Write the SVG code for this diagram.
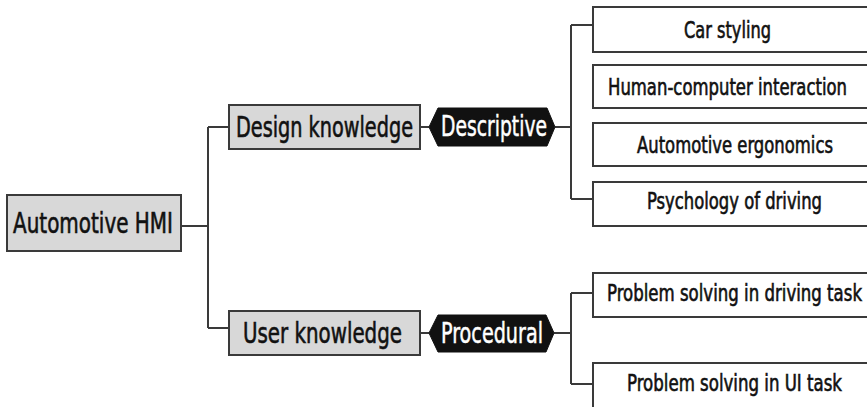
<svg xmlns="http://www.w3.org/2000/svg" width="867" height="407" viewBox="0 0 867 407">
<style>
.gbox{fill:#d8d8d8;stroke:#3a3a3a;stroke-width:2}
.wbox{fill:#ffffff;stroke:#3a3a3a;stroke-width:2}
.hex{fill:#111111;stroke:#111111;stroke-width:1}
.ln{fill:none;stroke:#3a3a3a;stroke-width:2}
text{font-family:"DejaVu Sans Condensed","Liberation Sans Narrow","Liberation Sans",sans-serif;fill:#111;stroke:#111;stroke-width:0.6}
.big{font-size:29px}
.sm{font-size:23px}
.wt{fill:#ffffff;stroke:#ffffff;stroke-width:0.5}
</style>
<rect width="867" height="407" fill="#ffffff"/>
<g id="connectors">
<path class="ln" d="M181 226 H208 M208 127 V328 M208 127 H229 M208 328 H229"/>
<path class="ln" d="M420 127 H429 M555 127 H571 M571 25 V199 M571 25 H593 M571 199 H593"/>
<path class="ln" d="M420 333 H429 M554 333 H571 M571 293 V384 M571 293 H593 M571 384 H593"/>
</g>
<g id="n-hmi">
<rect class="gbox" x="7" y="195" width="174" height="56"/>
<text class="big" x="93" y="233" text-anchor="middle" textLength="160" lengthAdjust="spacingAndGlyphs">Automotive HMI</text>
</g>
<g id="n-design">
<rect class="gbox" x="229" y="105" width="191" height="44"/>
<text class="big" x="324.5" y="137" text-anchor="middle" textLength="177" lengthAdjust="spacingAndGlyphs">Design knowledge</text>
</g>
<g id="n-descriptive">
<polygon class="hex" points="429,127 438,108 547,108 555,127 547,146 438,146"/>
<text class="big wt" x="494" y="136" text-anchor="middle" textLength="106" lengthAdjust="spacingAndGlyphs">Descriptive</text>
</g>
<g id="n-user">
<rect class="gbox" x="229" y="311" width="191" height="44"/>
<text class="big" x="322.5" y="343" text-anchor="middle" textLength="159" lengthAdjust="spacingAndGlyphs">User knowledge</text>
</g>
<g id="n-procedural">
<polygon class="hex" points="429,333 438,315 546,315 554,333 546,352 438,352"/>
<text class="big wt" x="492" y="343" text-anchor="middle" textLength="102" lengthAdjust="spacingAndGlyphs">Procedural</text>
</g>
<g id="n-car">
<rect class="wbox" x="593" y="7" width="280" height="45"/>
<text class="sm" x="727.5" y="38" text-anchor="middle" textLength="87" lengthAdjust="spacingAndGlyphs">Car styling</text>
</g>
<g id="n-hci">
<rect class="wbox" x="593" y="65" width="280" height="43"/>
<text class="sm" x="727.5" y="95" text-anchor="middle" textLength="239" lengthAdjust="spacingAndGlyphs">Human-computer interaction</text>
</g>
<g id="n-ergo">
<rect class="wbox" x="593" y="123" width="280" height="43"/>
<text class="sm" x="735" y="153" text-anchor="middle" textLength="196" lengthAdjust="spacingAndGlyphs">Automotive ergonomics</text>
</g>
<g id="n-psych">
<rect class="wbox" x="593" y="182" width="280" height="44"/>
<text class="sm" x="734.5" y="209" text-anchor="middle" textLength="175" lengthAdjust="spacingAndGlyphs">Psychology of driving</text>
</g>
<g id="n-psdt">
<rect class="wbox" x="593" y="273" width="280" height="44"/>
<text class="sm" x="734.5" y="301" text-anchor="middle" textLength="255" lengthAdjust="spacingAndGlyphs">Problem solving in driving task</text>
</g>
<g id="n-psui">
<rect class="wbox" x="593" y="363" width="280" height="50"/>
<text class="sm" x="734.5" y="391" text-anchor="middle" textLength="215" lengthAdjust="spacingAndGlyphs">Problem solving in UI task</text>
</g>
</svg>
